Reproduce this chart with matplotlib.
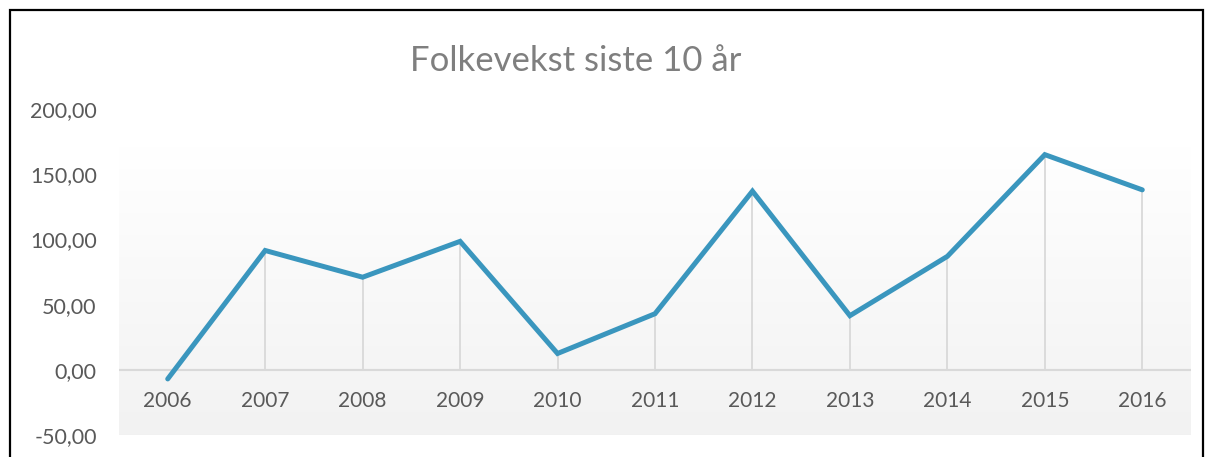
import numpy as np
import matplotlib
matplotlib.use("Agg")
import matplotlib.pyplot as plt
from matplotlib.patches import Rectangle

# data
years = ["2006", "2007", "2008", "2009", "2010", "2011",
         "2012", "2013", "2014", "2015", "2016"]
growth = [-7, 91.5, 71, 98.5, 12.5, 43, 137, 41.5, 87, 165, 138]
yticks = [-50, 0, 50, 100, 150, 200]

plt.rcParams['font.family'] = ['Lato', 'DejaVu Sans']

W, H = 1205, 457
fig = plt.figure(figsize=(W / 100, H / 100), dpi=100)
ax = fig.add_axes([119 / W, 22 / H, 1072 / W, 326 / H])
ax.set_xlim(-0.5, len(years) - 0.5)
ax.set_ylim(-50, 200)
ax.patch.set_visible(False)
for s in ax.spines.values():
    s.set_visible(False)

# plot area gradient (white -> light gray)
grad = np.linspace(1.0, 0.949, 256).reshape(-1, 1)
grad = np.dstack([grad, grad, grad])
ax.imshow(grad, extent=(-0.5, len(years) - 0.5, -50, 171), aspect='auto',
          origin='upper', zorder=0)

x = np.arange(len(years))
# zero line
ax.axhline(0, color='#D9D9D9', lw=1.5, zorder=1)
# drop lines
for xi, v in zip(x, growth):
    if v > 0:
        ax.plot([xi, xi], [0, v], color='#D9D9D9', lw=1.3, zorder=1)

ax.plot(x, growth, color='#3A96BE', lw=3.6, solid_capstyle='round',
        solid_joinstyle='miter', zorder=3)

# category labels sit just under the zero line
ax.set_xticks([])
for xi, lab in zip(x, years):
    ax.text(xi, -24, lab, ha='center', va='center', fontsize=15,
            color='#595959')

ax.set_yticks(yticks)
ax.set_yticklabels([f"{v:.2f}".replace('.', ',') for v in yticks],
                   fontsize=15.5, color='#595959')
ax.tick_params(axis='y', length=0, pad=16)

fig.text(576 / W, 1 - 61 / H, "Folkevekst siste 10 år", ha='center',
         va='center', fontsize=25, color='#7F7F7F')

# chart border
fig.patches.append(Rectangle((10 / W, -0.1), (1203 - 10) / W, 1 - 10 / H + 0.1,
                             transform=fig.transFigure, fill=False,
                             edgecolor='black', lw=1.6))

fig.savefig("out.png", dpi=100)
